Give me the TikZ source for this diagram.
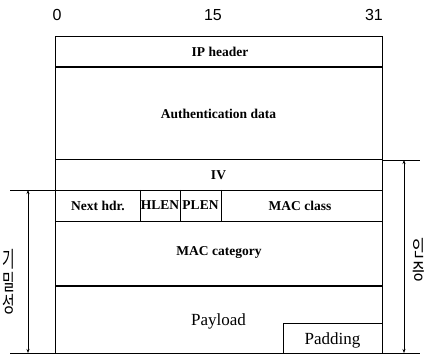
\documentclass[tikz,border=0pt]{standalone}
\usepackage{fontspec}
\setmainfont{Liberation Serif}
\newfontfamily\numfont{Liberation Sans}
\newfontfamily\korfont{Noto Sans CJK KR}
\usetikzlibrary{arrows.meta}

\begin{document}
\begin{tikzpicture}[x=1pt,y=-1pt,
	champ/.style={font=\bfseries\fontsize{13.5}{15}\selectfont,inner sep=0pt},
	coreen/.style={font=\korfont\fontsize{22}{22.5}\selectfont,align=center,xscale=0.62,inner sep=0pt},
	cote/.style={line width=0.6pt,{Stealth[length=4pt,width=3pt]}-{Stealth[length=4pt,width=3pt]}}]
	\useasboundingbox (0,0) rectangle (429,358);
	% bit positions
	\foreach \x/\nom in {57/0,213/15,374/31}
		\node[font=\numfont\fontsize{16}{18}\selectfont] (b\nom) at (\x,15) {\nom};
	% rows of the packet
	\draw[line width=0.9pt] (55,36) rectangle (382,353);
	\foreach \y/\ep in {67/1.3pt,160/1pt,190/0.8pt,221/0.8pt,286/1.3pt}
		\draw[line width=\ep] (55,\y) -- (382,\y);
	\foreach \x in {140,180,221}
		\draw[line width=0.8pt] (\x,190) -- (\x,221);
	\draw[line width=0.8pt] (283,353) -- (283,323) -- (382,323);
	\foreach \coordonnees/\nom/\texte in
	{{(220,51.5)}/iph/{IP header},
	{(218.5,114)}/auth/{Authentication data},
	{(218.5,175)}/iv/{IV},
	{(98,205.5)}/nxt/{Next hdr.},
	{(160,205.5)}/hlen/{HLEN},
	{(200.5,205.5)}/plen/{PLEN},
	{(300,205.5)}/mcl/{MAC class},
	{(219,253)}/mcat/{MAC category}}
		\node[champ] (\nom) at \coordonnees {\texte};
	\node[font=\fontsize{17}{19}\selectfont] (pay) at (218.5,321) {Payload};
	\node[font=\fontsize{17}{19}\selectfont] (pad) at (332.5,340) {Padding};
	% dimension lines
	\coordinate (gh) at (28,190);
	\coordinate (gb) at (28,353);
	\coordinate (dh) at (404,160);
	\coordinate (db) at (404,353);
	\draw[line width=0.6pt] (10,190) -- (55,190) (382,160) -- (420,160)
		(10,353) -- (55,353) (382,353) -- (420,353);
	\draw[cote] (gh) -- (gb);
	\draw[cote] (dh) -- (db);
	\node[coreen] (conf) at (8.5,282) {기\\밀\\성};
	\node[coreen] (authent) at (419,260) {인\\증};
\end{tikzpicture}
\end{document}
